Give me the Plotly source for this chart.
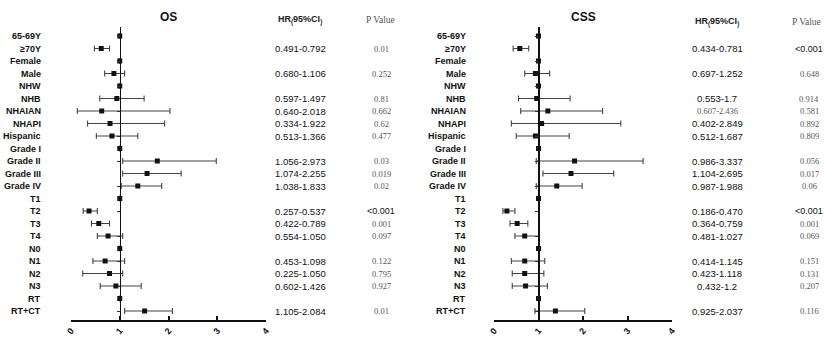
import plotly.graph_objects as go

rows = ["65-69Y", "≥70Y", "Female", "Male", "NHW", "NHB", "NHAIAN", "NHAPI", "Hispanic",
        "Grade I", "Grade II", "Grade III", "Grade IV", "T1", "T2", "T3", "T4",
        "N0", "N1", "N2", "N3", "RT", "RT+CT"]

os_hr = [1, 0.62, 1, 0.88, 1, 0.94, 0.63, 0.80, 0.84, 1, 1.77, 1.56, 1.37, 1, 0.37, 0.57, 0.76, 1, 0.70, 0.79, 0.92, 1, 1.51]
os_lo = [1, 0.48, 1, 0.69, 1, 0.59, 0.13, 0.34, 0.52, 1, 1.06, 1.06, 1.03, 1, 0.25, 0.42, 0.54, 1, 0.45, 0.24, 0.60, 1, 1.10]
os_hi = [1, 0.79, 1, 1.10, 1, 1.50, 2.03, 1.92, 1.37, 1, 2.98, 2.26, 1.86, 1, 0.54, 0.79, 1.06, 1, 1.10, 1.06, 1.44, 1, 2.08]

css_hr = [1, 0.58, 1, 0.93, 1, 0.96, 1.21, 1.07, 0.93, 1, 1.81, 1.73, 1.41, 1, 0.29, 0.52, 0.69, 1, 0.69, 0.69, 0.71, 1, 1.38]
css_lo = [1, 0.43, 1, 0.69, 1, 0.55, 0.60, 0.39, 0.50, 1, 0.95, 1.10, 0.95, 1, 0.20, 0.36, 0.47, 1, 0.39, 0.41, 0.41, 1, 0.92]
css_hi = [1, 0.78, 1, 1.25, 1, 1.71, 2.44, 2.85, 1.69, 1, 3.35, 2.69, 1.98, 1, 0.47, 0.76, 1.02, 1, 1.14, 1.12, 1.20, 1, 2.04]

os_ci = ["", "0.491-0.792", "", "0.680-1.106", "", "0.597-1.497", "0.640-2.018", "0.334-1.922", "0.513-1.366",
         "", "1.056-2.973", "1.074-2.255", "1.038-1.833", "", "0.257-0.537", "0.422-0.789", "0.554-1.050",
         "", "0.453-1.098", "0.225-1.050", "0.602-1.426", "", "1.105-2.084"]
os_p = ["", "0.01", "", "0.252", "", "0.81", "0.662", "0.62", "0.477", "", "0.03", "0.019", "0.02",
        "", "<0.001", "0.001", "0.097", "", "0.122", "0.795", "0.927", "", "0.01"]
css_ci = ["", "0.434-0.781", "", "0.697-1.252", "", "0.553-1.7", "0.607-2.436", "0.402-2.849", "0.512-1.687",
          "", "0.986-3.337", "1.104-2.695", "0.987-1.988", "", "0.186-0.470", "0.364-0.759", "0.481-1.027",
          "", "0.414-1.145", "0.423-1.118", "0.432-1.2", "", "0.925-2.037"]
css_p = ["", "<0.001", "", "0.648", "", "0.914", "0.581", "0.892", "0.809", "", "0.056", "0.017", "0.06",
         "", "<0.001", "0.001", "0.069", "", "0.151", "0.131", "0.207", "", "0.116"]

x_ticks = [0, 1, 2, 3, 4]

W, H = 824, 340
def px(x):
    return x / W
def py(y):
    return (H - y) / H

fig = go.Figure()

panels = [
    dict(hr=os_hr, lo=os_lo, hi=os_hi, ci=os_ci, p=os_p, xa="x", ya="y", xd=[px(71), px(266)],
         title="OS", tx=168, lab_x=43, ci_x=300, p_x=381, hx=380, hy=20, lw=1.5),
    dict(hr=css_hr, lo=css_lo, hi=css_hi, ci=css_ci, p=css_p, xa="x2", ya="y2", xd=[px(494), px(672)],
         title="CSS", tx=583, lab_x=468, ci_x=717, p_x=809, hx=806, hy=22, lw=2),
]

ydom = [py(320), py(27)]
annotations = []
layout = {}
for i, P in enumerate(panels):
    plus = [h - m for h, m in zip(P["hi"], P["hr"])]
    minus = [m - l for m, l in zip(P["hr"], P["lo"])]
    fig.add_trace(go.Scatter(
        x=P["hr"], y=rows, mode="markers", xaxis=P["xa"], yaxis=P["ya"],
        marker=dict(symbol="square", size=5, color="#111"),
        error_x=dict(type="data", symmetric=False, array=plus, arrayminus=minus,
                     color="#444", thickness=1.1, width=3),
        showlegend=False, hoverinfo="skip"))
    sfx = "" if i == 0 else "2"
    xd = P["xd"]
    ypos = xd[0] + (1 - 0) / (4 - 0) * (xd[1] - xd[0])
    layout["xaxis" + sfx] = dict(domain=xd, range=[0, 4], anchor="y" + sfx, tickvals=x_ticks,
                                 ticktext=["<b>%d</b>" % t for t in x_ticks],
                                 showline=True, linecolor="#111", linewidth=2, ticks="inside",
                                 ticklen=4, tickwidth=2, tickcolor="#111", showgrid=False, zeroline=False,
                                 automargin=False,
                                 tickangle=-50, tickfont=dict(family="Liberation Sans", size=9, color="#111"))
    layout["yaxis" + sfx] = dict(domain=ydom, type="category", categoryarray=rows, categoryorder="array",
                                 range=[22.72, -0.72], anchor="free", position=ypos, automargin=False,
                                 showline=True, linecolor="#111", linewidth=P["lw"], ticks="outside",
                                 ticklen=3, tickcolor="#333", showticklabels=False, showgrid=False,
                                 zeroline=False)
    yref = "y" if i == 0 else "y2"
    annotations.append(dict(text="<b>%s</b>" % P["title"], x=px(P["tx"]), y=py(17), xref="paper", yref="paper",
                            xanchor="center", yanchor="middle", showarrow=False,
                            font=dict(family="Liberation Sans", size=12, color="#111")))
    annotations.append(dict(text="<b>HR<sub>(</sub>95%CI<sub>)</sub></b>", x=px(P["ci_x"]), y=py(P["hy"]),
                            xref="paper", yref="paper", xanchor="center", yanchor="middle", showarrow=False,
                            font=dict(family="Liberation Sans", size=9, color="#222")))
    annotations.append(dict(text="P Value", x=px(P["hx"]), y=py(P["hy"]), xref="paper", yref="paper",
                            xanchor="center", yanchor="middle", showarrow=False,
                            font=dict(family="Liberation Serif", size=9.5, color="#555")))
    for r, c, pv in zip(rows, P["ci"], P["p"]):
        annotations.append(dict(text="<b>%s</b>" % r, x=px(P["lab_x"]), xanchor="right", yanchor="middle",
                                y=r, xref="paper", yref=yref, showarrow=False,
                                font=dict(family="Liberation Sans", size=9, color="#111")))
        if c:
            serif = (c == "0.607-2.436")
            annotations.append(dict(text=c, x=px(P["ci_x"]), y=r, xref="paper", yref=yref, showarrow=False,
                                    xanchor="center", yanchor="middle",
                                    font=dict(family="Liberation Serif" if serif else "Liberation Sans",
                                              size=8.5 if serif else 9.5,
                                              color="#555" if serif else "#111")))
        if pv:
            strong = pv.startswith("<")
            annotations.append(dict(text=pv, x=px(P["p_x"]), y=r, xref="paper", yref=yref, showarrow=False,
                                    xanchor="center", yanchor="middle",
                                    font=dict(family="Liberation Sans" if strong else "Liberation Serif",
                                              size=9 if strong else 8.5,
                                              color="#111" if strong else "#555")))

fig.update_layout(template="none", width=W, height=H, margin=dict(l=0, r=0, t=0, b=0, pad=0),
                  plot_bgcolor="white", paper_bgcolor="white", annotations=annotations, **layout)
fig.write_html("out.html", config={"displayModeBar": False, "staticPlot": True},
               post_script="document.body.style.margin='0';")
